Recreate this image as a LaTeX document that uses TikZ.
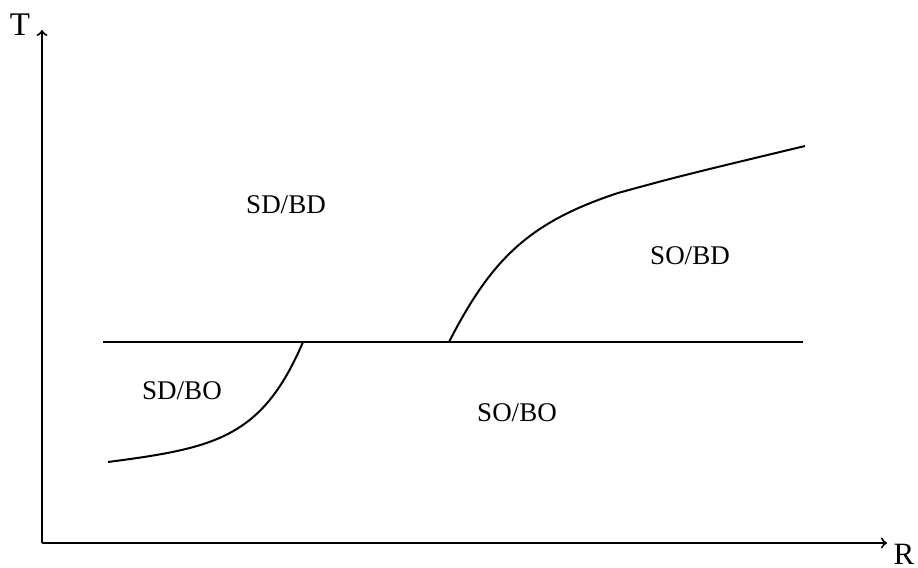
\documentclass[tikz,border=0pt]{standalone}
\usepackage{fontspec}
\setmainfont{Liberation Serif}
\usetikzlibrary{calc}

\begin{document}
\begin{tikzpicture}[x=0.5pt, y=-0.5pt, >=to, line width=1pt,
        every node/.style={font=\fontsize{13.5}{16}\selectfont}]
        \useasboundingbox (0,0) rectangle (918,568);

        % 坐标系
        \coordinate (O) at (42,543);
        \coordinate (Tend) at (42,30);
        \coordinate (Rend) at (887,543);
        \draw[->] (O) -- (Tend);
        \draw[->] (O) -- (Rend);
        \node[font=\fontsize{16.5}{18}\selectfont] (T) at (20,25) {T};
        \node[font=\fontsize{15.5}{17}\selectfont, inner sep=0pt] (R) at (904,554) {R};

        % 分界线
        \coordinate (H1) at (103,342);
        \coordinate (H2) at (803,342);
        \draw (H1) -- (H2);

        % 左下曲线
        \coordinate (A0) at (108,462);
        \coordinate (A1) at (303,342);
        \draw (A0) .. controls (215,448) and (262,438) .. (A1);

        % 右上曲线
        \coordinate (B0) at (449,342);
        \coordinate (B1) at (618,193);
        \coordinate (B2) at (805,146);
        \draw (B0) .. controls (492,258) and (530,222) .. (B1)
        .. controls (680,176) .. (B2);

        % 区域标注
        \node (SDBD) at (286,205) {SD/BD};
        \node (SOBD) at (690,256) {SO/BD};
        \node (SDBO) at (182,391) {SD/BO};
        \node (SOBO) at (517,413) {SO/BO};

\end{tikzpicture}
\end{document}
